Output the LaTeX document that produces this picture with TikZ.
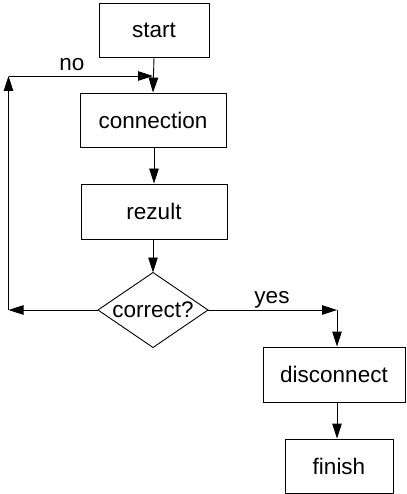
\documentclass[tikz,border=0pt]{standalone}
\usepackage{fontspec}
\setmainfont{Liberation Sans}
\usetikzlibrary{arrows.meta}
\begin{document}
\begin{tikzpicture}[x=1pt,y=-1pt,
  box/.style={draw,line width=0.9pt,rectangle,inner sep=0pt,font=\fontsize{22.5}{26}\selectfont},
  lbl/.style={inner sep=0pt,font=\fontsize{22.5}{26}\selectfont},
  arr/.style={draw,line width=0.9pt,-{Triangle[length=15pt,width=9.5pt]}},
  ln/.style={draw,line width=0.9pt}]
\useasboundingbox (0,0) rectangle (406,494);
\node[box,minimum width=110pt,minimum height=54pt] (start) at (154,30) {start};
\node[box,minimum width=146pt,minimum height=54pt] (conn) at (153,120) {connection};
\node[box,minimum width=146pt,minimum height=55pt] (rez) at (154,211.5) {rezult};
\coordinate (dC) at (153,310);
\coordinate (dN) at (153,272.5);
\coordinate (dS) at (153,347.5);
\coordinate (dW) at (98,310);
\coordinate (dE) at (208,310);
\draw[line width=0.9pt] (dN) -- (dE) -- (dS) -- (dW) -- cycle;
\node[lbl] (corr) at (dC) {correct?};
\node[box,minimum width=142pt,minimum height=55pt] (disc) at (334,374.5) {disconnect};
\node[box,minimum width=108pt,minimum height=54pt] (fin) at (339,466) {finish};
\coordinate (L1) at (8.5,310);
\coordinate (L2) at (8.5,76);
\coordinate (L3) at (153,76);
\coordinate (R1) at (337,310);
\draw[arr] (start.south) -- (conn.north);
\draw[arr] (conn.south -| rez) -- (rez.north);
\draw[arr] (rez.south -| dN) -- (dN);
\draw[arr] (dW) -- (L1);
\draw[arr] (L1) -- (L2);
\draw[arr] (L2) -- (L3);
\draw[arr] (dE) -- (R1);
\draw[arr] (R1) -- (R1 |- disc.north);
\draw[arr] (disc.south -| R1) -- (fin.north -| R1);
\node[lbl] (no) at (72,65) {no};
\node[lbl] (yes) at (272,300) {yes};
\end{tikzpicture}
\end{document}
